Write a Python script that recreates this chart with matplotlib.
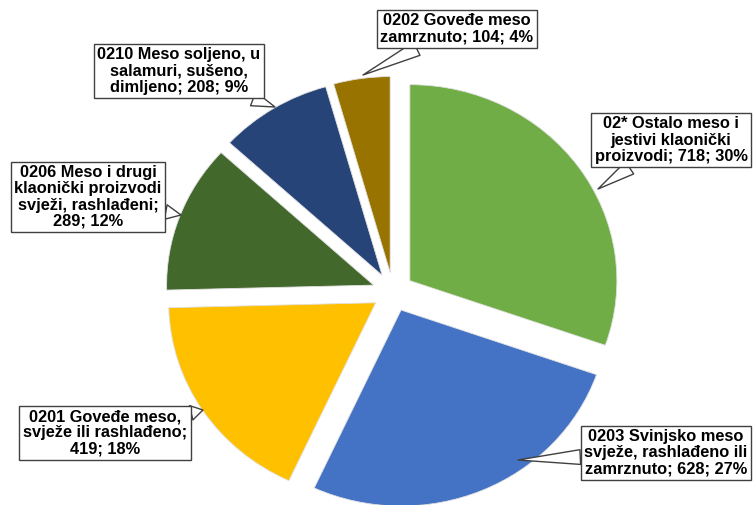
import numpy as np
import matplotlib.pyplot as plt

# data
names = ["02* Ostalo meso i\njestivi klaonički\nproizvodi",
         "0203 Svinjsko meso\nsvježe, rashlađeno ili\nzamrznuto",
         "0201 Goveđe meso,\nsvježe ili rashlađeno",
         "0206 Meso i drugi\nklaonički proizvodi\nsvježi, rashlađeni",
         "0210 Meso soljeno, u\nsalamuri, sušeno,\ndimljeno",
         "0202 Goveđe meso\nzamrznuto"]
values = [718, 628, 419, 289, 208, 104]
seps = ["; ", "; ", ";\n", ";\n", "; ", "; "]
colors = ["#70AD47", "#4472C4", "#FFC000", "#43682B", "#264478", "#997300"]

# label box centres and pointer tips, in pixels from top-left
text_pos = [(671, 140), (666, 453), (105, 433), (88, 197), (179, 71), (457, 29)]
tip_pos = [(598, 189), (518, 460), (203, 410), (181, 215), (275, 107), (363, 75)]

W, H = 753, 505
cx, cy = 393, 292      # pie centre (px)
rx, ry = 207, 196      # px per unit radius

plt.rcParams['font.family'] = ['Liberation Sans', 'DejaVu Sans']

fig = plt.figure(figsize=(W / 100, H / 100), dpi=100)
ax = fig.add_axes([0, 0, 1, 1])

ax.pie(values, colors=colors, startangle=90, counterclock=False,
       explode=[0.1] * len(values), radius=1, center=(0, 0),
       wedgeprops=dict(linewidth=0.6, edgecolor="#e0e0e0"))
ax.set_aspect('auto')
ax.set_xlim(-cx / rx, (W - cx) / rx)
ax.set_ylim(-(H - cy) / ry, cy / ry)
ax.axis('off')

total = sum(values)
for i in range(len(values)):
    pct = round(values[i] / total * 100)
    label = names[i] + seps[i] + str(values[i]) + "; " + str(pct) + "%"
    tx, ty = text_pos[i]
    px, py = tip_pos[i]
    ax.annotate(label, xy=(px, H - py), xycoords='figure pixels',
                xytext=(tx, H - ty), textcoords='figure pixels',
                ha='center', va='center', multialignment='center',
                fontsize=11.8, fontweight='bold', color='black', linespacing=1.1,
                bbox=dict(boxstyle='square,pad=0.22', fc='white', ec='#404040', lw=1),
                arrowprops=dict(arrowstyle='wedge,tail_width=0.9,shrink_factor=0.5',
                                fc='white', ec='#404040', lw=1,
                                shrinkA=0, shrinkB=0))

fig.savefig("out.png", dpi=100)
